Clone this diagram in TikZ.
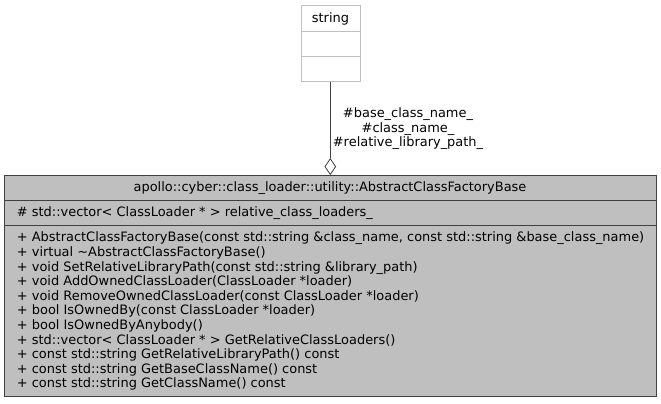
\documentclass[tikz,border=0pt]{standalone}
\usepackage{fontspec}
\setmainfont{DejaVu Sans}
\usetikzlibrary{shapes.geometric}
\definecolor{boxfill}{HTML}{BFBFBF}
\definecolor{boxline}{HTML}{404040}
\definecolor{lightline}{HTML}{BFBFBF}
\begin{document}
\begin{tikzpicture}[x=1pt,y=-1pt,
  txt/.style={inner sep=0pt,font=\fontsize{12.95}{14.6}\selectfont,text=black},
  agg/.style={draw=boxline,fill=white,diamond,inner sep=0pt,minimum width=11pt,minimum height=16pt,line width=0.8pt}]
\useasboundingbox (0,0) rectangle (661,404);
% string box
\draw[lightline,fill=white,line width=0.8pt] (301,5) rectangle (360,81.7);
\draw[lightline,line width=0.8pt] (301,31.7) -- (360,31.7);
\draw[lightline,line width=0.8pt] (301,56.7) -- (360,56.7);
\node[txt,anchor=base] (str) at (330.5,22.8) {string};
\coordinate (strb) at (330.3,81.7);
% main class box
\draw[boxline,fill=boxfill,line width=0.8pt] (4,175) rectangle (656,396.7);
\draw[boxline,line width=0.8pt] (4,200) -- (656,200);
\draw[boxline,line width=0.8pt] (4,225.3) -- (656,225.3);
\node[txt,anchor=base] (title) at (330,191.8) {apollo::cyber::class\_loader::utility::AbstractClassFactoryBase};
\node[txt,anchor=base west] (attr) at (16.7,216.8) {\# std::vector< ClassLoader * > relative\_class\_loaders\_};
% anchor=base of a multi-line node is the last line's baseline
\node[txt,anchor=base west,align=left] (ops) at (16.7,387.8) {%
+ AbstractClassFactoryBase(const std::string \&class\_name, const std::string \&base\_class\_name)\\
+ virtual \textasciitilde AbstractClassFactoryBase()\\
+ void SetRelativeLibraryPath(const std::string \&library\_path)\\
+ void AddOwnedClassLoader(ClassLoader *loader)\\
+ void RemoveOwnedClassLoader(const ClassLoader *loader)\\
+ bool IsOwnedBy(const ClassLoader *loader)\\
+ bool IsOwnedByAnybody()\\
+ std::vector< ClassLoader * > GetRelativeClassLoaders()\\
+ const std::string GetRelativeLibraryPath() const\\
+ const std::string GetBaseClassName() const\\
+ const std::string GetClassName() const};
\coordinate (maint) at (330.3,175);
% aggregation
\node[agg,anchor=south] (dia) at (maint) {};
\draw[boxline,line width=0.8pt] (strb) -- (dia.north);
\node[txt,anchor=base,align=center] (elbl) at (408,146.7) {\#base\_class\_name\_\\\#class\_name\_\\\#relative\_library\_path\_};
\end{tikzpicture}
\end{document}
